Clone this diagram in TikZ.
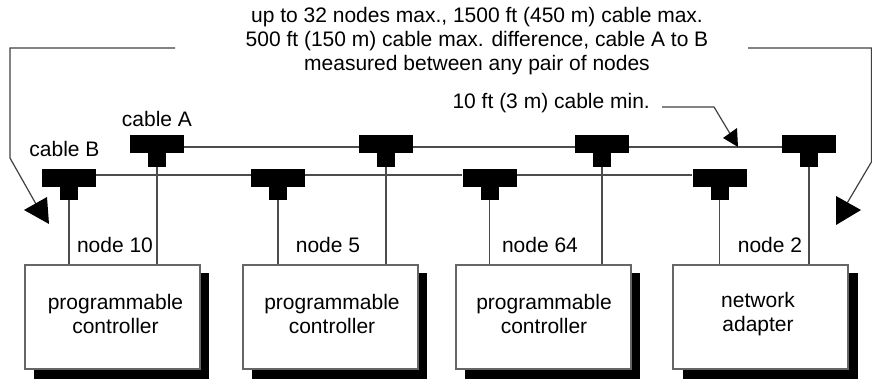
\documentclass[tikz,border=0pt]{standalone}
\usepackage{fontspec}
\setmainfont{Liberation Sans}
\begin{document}
\begin{tikzpicture}[x=1pt,y=-1pt,
  lbl/.style={inner sep=0pt,font=\fontsize{21}{24}\selectfont,align=center,text=black},
  cable/.style={draw=black!70,line width=1.2pt},
  bar/.style={fill=black,draw=none,minimum width=54pt,minimum height=18pt,inner sep=0pt},
  stem/.style={fill=black,draw=none,minimum width=18pt,minimum height=15pt,inner sep=0pt},
  box/.style={draw=black!60,line width=1.3pt,fill=white,minimum width=175pt,minimum height=104pt,inner sep=0pt},
  shade/.style={fill=black,draw=none,minimum width=175pt,minimum height=106pt,inner sep=0pt},
  lead/.style={draw=black!75,line width=1.2pt},
  head/.style={fill=black,draw=none}]
\useasboundingbox (0,0) rectangle (872,379);
\node[shade] (s1) at (121.5,326) {};
\node[shade] (s2) at (339.5,326) {};
\node[shade] (s3) at (552.5,326) {};
\node[shade] (s4) at (770.5,326) {};
\node[box] (n1) at (112.5,317) {};
\node[box] (n2) at (330.5,317) {};
\node[box] (n3) at (543.5,317) {};
\node[box] (n4) at (760.5,317) {};
\node[lbl] (t1) at (115.5,314) {programmable\\controller};
\node[lbl] (t2) at (332,314) {programmable\\controller};
\node[lbl] (t3) at (544,314) {programmable\\controller};
\node[lbl] (t4) at (758,314) {network\\adapter};
% T connectors
\foreach \n/\x in {a1/157,a2/386,a3/602,a4/809}{
  \node[bar] (t\n) at (\x,144) {};
  \node[stem] (s\n) at (\x,159.5) {};
}
\foreach \n/\x in {b1/69,b2/278,b3/489.5,b4/719.5}{
  \node[bar] (t\n) at (\x,178) {};
  \node[stem] (s\n) at (\x,192.5) {};
}
% cables
\draw[cable] ([yshift=-3pt]ta1.east) -- ([yshift=-3pt]ta2.west);
\draw[cable] ([yshift=-3pt]ta2.east) -- ([yshift=-3pt]ta3.west);
\draw[cable] ([yshift=-3pt]ta3.east) -- ([yshift=-3pt]ta4.west);
\draw[cable] ([yshift=3pt]tb1.east) -- ([yshift=3pt]tb2.west);
\draw[cable] ([yshift=3pt]tb2.east) -- ([yshift=3pt]tb3.west);
\draw[cable] ([yshift=3pt]tb3.east) -- ([yshift=3pt]tb4.west);
\draw[cable] (sa1.south) -- (sa1.south |- n1.north);
\draw[cable] (sa2.south) -- (sa2.south |- n2.north);
\draw[cable] (sa3.south) -- (sa3.south |- n3.north);
\draw[cable] (sa4.south) -- (sa4.south |- n4.north);
\draw[cable] (sb1.south) -- (sb1.south |- n1.north);
\draw[cable] (sb2.south) -- (sb2.south |- n2.north);
\draw[cable] (sb3.south) -- (sb3.south |- n3.north);
\draw[cable] (sb4.south) -- (sb4.south |- n4.north);
\node[lbl] (title) at (477,41) {up to 32 nodes max., 1500 ft (450 m) cable max.\\500 ft (150 m) cable max. difference, cable A to B\\measured between any pair of nodes};
\node[lbl] (labA) at (157,119) {cable A};
\node[lbl] (labB) at (64.5,149) {cable B};
\node[lbl] (lab10) at (115,245) {node 10};
\node[lbl] (lab5) at (328,245) {node 5};
\node[lbl] (lab64) at (540,245) {node 64};
\node[lbl] (lab2) at (770,245) {node 2};
\node[lbl,anchor=east] (labmin) at (650,103) {10 ft (3 m) cable min.};
% leaders
\coordinate (l1) at (175,48); \coordinate (l2) at (10,48); \coordinate (l3) at (10,158); \coordinate (l4) at (36,204);
\draw[lead] (l1) -- (l2) -- (l3) -- (l4);
\fill[head] (47,197) -- (24,210) -- (49,224) -- cycle;
\coordinate (r1) at (748,48); \coordinate (r2) at (871.4,48); \coordinate (r3) at (871.4,162); \coordinate (r4) at (846,205);
\draw[lead] (r1) -- (r2) -- (r3) -- (r4);
\fill[head] (836,196) -- (861,210) -- (836,225) -- cycle;
\coordinate (m1) at (662,107); \coordinate (m2) at (714,107); \coordinate (m3) at (735,142);
\draw[lead] (m1) -- (m2) -- (m3);
\fill[head] (738,147) -- (737,128) -- (723,138) -- cycle;
\end{tikzpicture}
\end{document}
